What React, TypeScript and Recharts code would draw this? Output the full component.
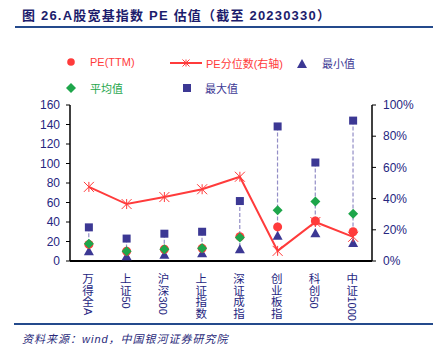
import React from 'react';
import { ComposedChart, Bar, Line, Scatter, XAxis, YAxis } from 'recharts';

const categories = ['万得全A', '上证50', '沪深300', '上证指数', '深证成指', '创业板指', '科创50', '中证1000'];
const peTTM = [17, 10, 12, 13, 25, 35, 41, 30];
const pePct = [47.5, 36.5, 41, 46, 54, 6.5, 25, 15.5];
const minVals = [10, 5, 6.5, 8, 12, 26, 28.5, 18.5];
const meanVals = [17.8, 10, 12, 13, 24, 52, 61, 48.5];
const maxVals = [34.5, 23, 28, 30, 61.5, 138, 101, 144];
const leftTicks = [0, 20, 40, 60, 80, 100, 120, 140, 160];
const rightTicks = [0, 20, 40, 60, 80, 100];

const data = categories.map((name, i) => ({
  name,
  pe: peTTM[i],
  pct: pePct[i],
  min: minVals[i],
  mean: meanVals[i],
  max: maxVals[i],
  range: [minVals[i], maxVals[i]],
}));

const RED = '#ff3b3b';
const GREEN = '#1ea64b';
const NAVY = '#3c3894';
const TEXT = '#26267f';
const FONT = 'Arial, "Liberation Sans", "Noto Sans CJK SC", sans-serif';

const Square = (p: any) => <rect x={p.cx - 4} y={p.cy - 4} width={8} height={8} fill={NAVY} />;
const Triangle = (p: any) => (
  <path d={`M${p.cx},${p.cy - 5}L${p.cx + 5},${p.cy + 4}L${p.cx - 5},${p.cy + 4}Z`} fill={NAVY} />
);
const Diamond = (p: any) => (
  <path d={`M${p.cx},${p.cy - 5}L${p.cx + 5},${p.cy}L${p.cx},${p.cy + 5}L${p.cx - 5},${p.cy}Z`} fill={GREEN} />
);
const Circle = (p: any) => <circle cx={p.cx} cy={p.cy} r={4.5} fill={RED} />;
const Star = (p: any) => {
  const { cx, cy } = p;
  const s = p.s ?? 5;
  if (cx == null || cy == null) return null;
  return (
    <path
      key={`s${cx}`}
      d={`M${cx - s},${cy - s}L${cx + s},${cy + s}M${cx + s},${cy - s}L${cx - s},${cy + s}M${cx},${cy - s}L${cx},${cy + s}`}
      stroke={RED}
      strokeWidth={1}
      fill="none"
    />
  );
};

const HiLo = (p: any) => {
  const x = p.x + p.width / 2;
  return <line x1={x} x2={x} y1={p.y} y2={p.y + p.height} stroke="#938ec6" strokeWidth={1.2} strokeDasharray="4 2" />;
};

// stacked vertical label: CJK chars one under another, latin runs turned sideways
const CatTick = (p: any) => {
  const label: string = p.payload.value;
  const runs = label.match(/[\x00-\x7f]+|[^\x00-\x7f]/g) || [];
  const x = p.x - 1;
  let cy = 273;
  const out: any[] = [];
  runs.forEach((r, i) => {
    if (/^[\x00-\x7f]+$/.test(r)) {
      out.push(
        <text key={i} transform={`translate(${x - 4},${cy}) rotate(90)`} fontSize={11} fill={TEXT} fontFamily={FONT}>
          {r}
        </text>
      );
      cy += r.length * 6.2;
    } else {
      out.push(
        <text key={i} x={x} y={cy + 10} textAnchor="middle" fontSize={11.5} fill={TEXT} fontFamily={FONT}>
          {r}
        </text>
      );
      cy += 11.7;
    }
  });
  return <g>{out}</g>;
};

const LegendItem = ({ icon, label, color, left, top }: any) => (
  <div style={{ position: 'absolute', left, top, display: 'flex', alignItems: 'center', fontSize: 11, color }}>
    {icon}
    <span>{label}</span>
  </div>
);

export default function App() {
  return (
    <div style={{ position: 'absolute', left: 0, top: 0, width: 433, height: 349, background: '#fff', fontFamily: FONT }}>
      <div style={{ position: 'absolute', left: 22, top: 5, fontSize: 13, fontWeight: 700, color: '#1c1c6c', letterSpacing: 1.2, whiteSpace: 'nowrap' }}>
        图 26.A股宽基指数 PE 估值（截至 20230330）
      </div>
      <div style={{ position: 'absolute', left: 15, right: 0, top: 26, height: 2, background: '#244a8c' }} />

      <LegendItem left={64} top={55} color={RED} label="PE(TTM)"
        icon={<svg width={26} height={14}><circle cx={7} cy={7} r={3.8} fill={RED} /></svg>} />
      <LegendItem left={170} top={55} color={RED} label="PE分位数(右轴)"
        icon={<svg width={36} height={14}><line x1={0} x2={32} y1={7} y2={7} stroke={RED} strokeWidth={2} /><Star cx={16} cy={7} s={3.5} /></svg>} />
      <LegendItem left={296} top={55} color={NAVY} label="最小值"
        icon={<svg width={26} height={14}><Triangle cx={6} cy={8} /></svg>} />
      <LegendItem left={64} top={80} color={GREEN} label="平均值"
        icon={<svg width={26} height={14}><Diamond cx={7} cy={7} /></svg>} />
      <LegendItem left={181} top={80} color={NAVY} label="最大值"
        icon={<svg width={24} height={14}><Square cx={6} cy={7} /></svg>} />

      <div style={{ position: 'absolute', left: 0, top: 0 }}>
        <ComposedChart width={433} height={349} data={data} margin={{ top: 105, right: 0, bottom: 58, left: 0 }}>
          <XAxis dataKey="name" height={30} stroke="#000" axisLine={{ stroke: '#000', strokeWidth: 2 }} tickLine={false} tick={<CatTick />} interval={0} />
          <YAxis yAxisId="l" domain={[0, 160]} ticks={leftTicks} interval={0} width={70} axisLine={{ stroke: '#000', strokeWidth: 1.5 }}
            tickLine={{ stroke: '#000' }} tickSize={4} tickMargin={6} tick={{ fill: TEXT, fontSize: 12, fontFamily: FONT }} />
          <YAxis yAxisId="r" orientation="right" domain={[0, 100]} ticks={rightTicks} interval={0} width={61} axisLine={{ stroke: '#000', strokeWidth: 1.5 }}
            tickLine={{ stroke: '#000' }} tickSize={4} tickMargin={7} tickFormatter={(v: number) => `${v}%`}
            tick={{ fill: TEXT, fontSize: 12, fontFamily: FONT }} />
          <Bar yAxisId="l" dataKey="range" shape={<HiLo />} isAnimationActive={false} />
          <Scatter yAxisId="l" dataKey="max" shape={Square} isAnimationActive={false} />
          <Scatter yAxisId="l" dataKey="min" shape={Triangle} isAnimationActive={false} />
          <Scatter yAxisId="l" dataKey="pe" shape={Circle} isAnimationActive={false} />
          <Scatter yAxisId="l" dataKey="mean" shape={Diamond} isAnimationActive={false} />
          <Line yAxisId="r" dataKey="pct" stroke={RED} strokeWidth={2} dot={<Star />} activeDot={false} isAnimationActive={false} />
        </ComposedChart>
      </div>

      <div style={{ position: 'absolute', left: 14, right: 0, top: 323, height: 2, background: '#244a8c' }} />
      <div style={{ position: 'absolute', left: 22, top: 330, fontSize: 11, fontStyle: 'italic', color: '#2a2a7a', letterSpacing: 1, whiteSpace: 'nowrap' }}>
        资料来源：wind，中国银河证券研究院
      </div>
    </div>
  );
}
